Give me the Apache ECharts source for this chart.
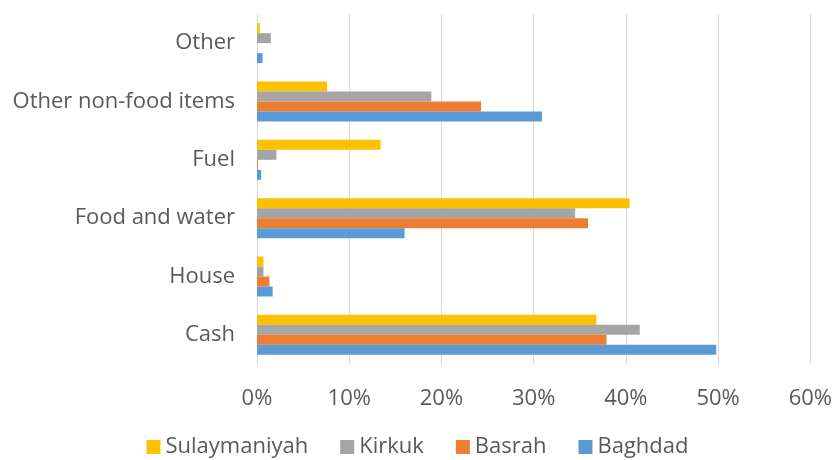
<!DOCTYPE html>
<html>
<head>
<meta charset="utf-8">
<script src="https://cdn.jsdelivr.net/npm/echarts@6/dist/echarts.min.js"></script>
<style>
  html, body { margin: 0; padding: 0; background: #fff; }
  #chart { width: 835px; height: 460px; }
</style>
</head>
<body>
<div id="chart"></div>
<script>
const categories = ["Cash", "House", "Food and water", "Fuel", "Other non-food items", "Other"];
const baghdad = [0.498, 0.017, 0.160, 0.0045, 0.309, 0.006];
const basrah = [0.379, 0.0135, 0.359, 0.001, 0.243, 0];
const kirkuk = [0.415, 0.007, 0.345, 0.021, 0.189, 0.015];
const sulaymaniyah = [0.368, 0.007, 0.404, 0.134, 0.076, 0.003];
const legendOrder = ["Sulaymaniyah", "Kirkuk", "Basrah", "Baghdad"];

const textColor = "#595959";
const font = "Open Sans";

const chart = echarts.init(document.getElementById("chart"));

function bar(name, data, color) {
  return {
    name,
    type: "bar",
    data,
    barWidth: 10,
    barGap: "0%",
    barCategoryGap: "30%",
    itemStyle: { color },
    animation: false,
  };
}

chart.setOption({
  backgroundColor: "#fff",
  textStyle: { fontFamily: font },
  grid: { left: 257, right: 20, top: 14, bottom: 96 },
  legend: {
    data: legendOrder,
    top: 431,
    left: "center",
    itemWidth: 14,
    itemHeight: 14,
    itemGap: 32,
    icon: "rect",
    textStyle: { color: textColor, fontSize: 22, fontFamily: font },
  },
  xAxis: {
    type: "value",
    min: 0,
    max: 0.6,
    interval: 0.1,
    axisLine: { show: false },
    axisTick: { show: false },
    splitLine: { lineStyle: { color: "#d9d9d9", width: 1 } },
    axisLabel: {
      color: textColor,
      fontSize: 22,
      margin: 24,
      formatter: (v) => Math.round(v * 100) + "%",
    },
  },
  yAxis: {
    type: "category",
    data: categories,
    axisLine: { lineStyle: { color: "#d9d9d9", width: 1 } },
    axisTick: { show: false },
    axisLabel: { color: textColor, fontSize: 22, margin: 22 },
  },
  // first series sits at the top of each group
  series: [
    bar("Sulaymaniyah", sulaymaniyah, "#ffc000"),
    bar("Kirkuk", kirkuk, "#a5a5a5"),
    bar("Basrah", basrah, "#ed7d31"),
    bar("Baghdad", baghdad, "#5b9bd5"),
  ],
});
</script>
</body>
</html>
